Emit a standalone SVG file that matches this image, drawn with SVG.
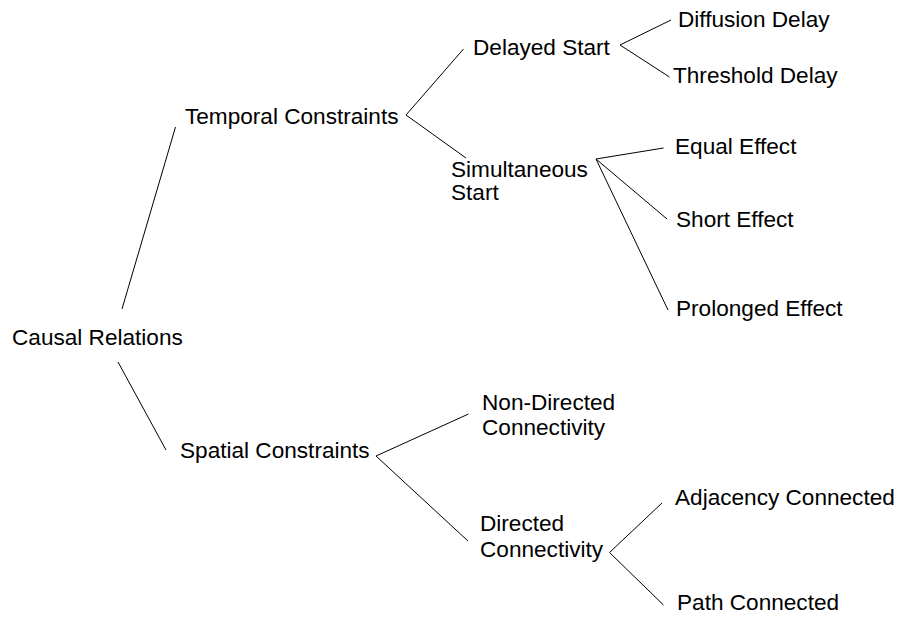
<svg xmlns="http://www.w3.org/2000/svg" width="897" height="618" viewBox="0 0 897 618">
<style>
text{font-family:"Liberation Sans",Arial,sans-serif;font-size:22.6px;fill:#000}
.c line{stroke:#000;stroke-width:1;fill:none}
</style>
<rect width="897" height="618" fill="#fff"/>
<g class="c" id="connectors">
<line x1="122" y1="309" x2="175.5" y2="127"/>
<line x1="118" y1="362" x2="166" y2="450"/>
<line x1="406" y1="115" x2="463.5" y2="49"/>
<line x1="406" y1="115" x2="466" y2="158"/>
<line x1="620" y1="45" x2="671" y2="20"/>
<line x1="620" y1="45" x2="669.5" y2="77"/>
<line x1="596" y1="159" x2="663.5" y2="148"/>
<line x1="596" y1="159" x2="667" y2="219"/>
<line x1="596" y1="159" x2="668" y2="310"/>
<line x1="376" y1="456" x2="468.5" y2="414"/>
<line x1="376" y1="456" x2="468" y2="541"/>
<line x1="609.5" y1="552.5" x2="662" y2="503"/>
<line x1="609.5" y1="552.5" x2="663.5" y2="605"/>
</g>
<g id="causal"><text x="12" y="345">Causal Relations</text></g>
<g id="temporal"><text x="185" y="124">Temporal Constraints</text></g>
<g id="spatial"><text x="180" y="458">Spatial Constraints</text></g>
<g id="delayed"><text x="473" y="55">Delayed Start</text></g>
<g id="diffusion"><text x="678" y="27">Diffusion Delay</text></g>
<g id="threshold"><text x="673" y="83">Threshold Delay</text></g>
<g id="simultaneous"><text x="451" y="177">Simultaneous</text><text x="451" y="200">Start</text></g>
<g id="equal"><text x="675" y="154">Equal Effect</text></g>
<g id="short"><text x="676" y="227">Short Effect</text></g>
<g id="prolonged"><text x="676" y="316">Prolonged Effect</text></g>
<g id="nondirected"><text x="482" y="410">Non-Directed</text><text x="482" y="435">Connectivity</text></g>
<g id="directed"><text x="480" y="531">Directed</text><text x="480" y="557">Connectivity</text></g>
<g id="adjacency"><text x="675" y="505">Adjacency Connected</text></g>
<g id="path"><text x="677" y="610">Path Connected</text></g>
</svg>
